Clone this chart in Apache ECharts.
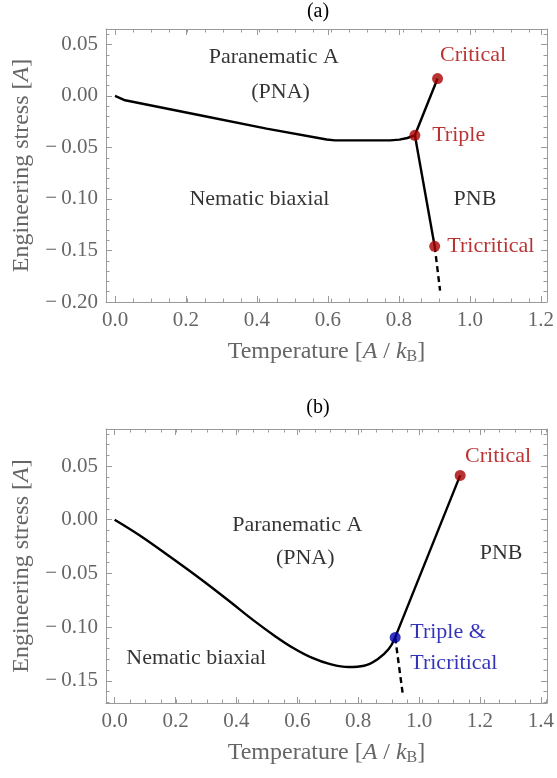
<!DOCTYPE html>
<html>
<head>
<meta charset="utf-8">
<script src="https://cdn.jsdelivr.net/npm/echarts@6/dist/echarts.min.js"></script>
<style>
  html, body { margin: 0; padding: 0; background: #fff; }
  #chart { width: 557px; height: 778px; }
</style>
</head>
<body>
<div id="chart"></div>
<script>
var SERIF = '"Liberation Serif", "Times New Roman", serif';
var FRAME = '#9a9a9a', GREY = '#666666';
var RED = '#a80000', BLUE = '#0000a8';

// ---- panel (a): phase boundaries, [temperature, stress]
var aLowBoundary = [[0, 0], [0.028, -0.0042], [0.236, -0.0187], [0.421, -0.0317], [0.588, -0.0423],
  [0.611, -0.0431], [0.764, -0.0431], [0.79, -0.0424], [0.812, -0.0408], [0.833, -0.0382]];
var aTripleCritical = [[0.833, -0.0382], [0.896, 0.0169]];
var aTripleTricritical = [[0.833, -0.0382], [0.888, -0.1459]];
var aDashed = [[0.888, -0.1459], [0.903, -0.189]];
var aPoints = [[0.896, 0.0169], [0.833, -0.0382], [0.888, -0.1459]];

// ---- panel (b)
var bLowBoundary = [[0, 0], [0.083, -0.0149], [0.18, -0.0345], [0.278, -0.055], [0.375, -0.0764],
  [0.45, -0.0935], [0.52, -0.1082], [0.58, -0.1195], [0.64, -0.1285], [0.7, -0.1345],
  [0.76, -0.1372], [0.81, -0.136], [0.855, -0.1297], [0.89, -0.1205], [0.911, -0.1096]];
var bTripleCritical = [[0.911, -0.1096], [1.122, 0.0413]];
var bDashed = [[0.911, -0.1096], [0.935, -0.161]];
var bCritical = [[1.122, 0.0413]];
var bTriple = [[0.911, -0.1096]];

// text annotations (data coords)
var aLabels = [
  { text: 'Paranematic A', x: 0.441, y: 0.0376, align: 'center', color: '#000' },
  { text: '(PNA)', x: 0.46, y: 0.0036, align: 'center', color: '#000' },
  { text: 'Nematic biaxial', x: 0.401, y: -0.1003, align: 'center', color: '#000' },
  { text: 'PNB', x: 1.0, y: -0.1003, align: 'center', color: '#000' },
  { text: 'Critical', x: 0.903, y: 0.0395, align: 'left', color: RED },
  { text: 'Triple', x: 0.881, y: -0.0383, align: 'left', color: RED },
  { text: 'Tricritical', x: 0.923, y: -0.146, align: 'left', color: RED }
];
var bLabels = [
  { text: 'Paranematic A', x: 0.593, y: -0.0047, align: 'center', color: '#000' },
  { text: '(PNA)', x: 0.619, y: -0.0354, align: 'center', color: '#000' },
  { text: 'PNB', x: 1.255, y: -0.0312, align: 'center', color: '#000' },
  { text: 'Nematic biaxial', x: 0.265, y: -0.129, align: 'center', color: '#000' },
  { text: 'Critical', x: 1.138, y: 0.0587, align: 'left', color: RED },
  { text: 'Triple &', x: 0.96, y: -0.105, align: 'left', color: BLUE },
  { text: 'Tricritical', x: 0.96, y: -0.134, align: 'left', color: BLUE }
];

// frames: pixel box + plotted ranges
var frameA = { left: 106, top: 29, width: 441, height: 273, xmin: -0.025, xmax: 1.2, ymin: -0.2, ymax: 0.065 };
var frameB = { left: 106, top: 429, width: 441, height: 274, xmin: -0.028, xmax: 1.404, ymin: -0.1707, ymax: 0.0845 };

function fmtY(v) {
  if (Math.abs(v) < 1e-9) return '0.00';
  return v < 0 ? '\u2212\u2009' + (-v).toFixed(2) : v.toFixed(2);
}
function fmtX(v) { return v.toFixed(1); }

var nameStyle = {
  fontFamily: SERIF, fontSize: 24, color: GREY,
  rich: {
    i: { fontFamily: SERIF, fontSize: 24, fontStyle: 'italic', color: GREY },
    s: { fontFamily: SERIF, fontSize: 16, color: GREY, padding: [11, 0, 0, 0] }
  }
};

var grids = [], xAxes = [], yAxes = [];

function frameAxis(gi, pos, min, max, name, gap) {
  var a = {
    gridIndex: gi, type: 'value', position: pos, min: min, max: max,
    splitLine: { show: false },
    axisLine: { show: true, onZero: false, lineStyle: { color: FRAME, width: 1 } },
    axisTick: { show: false }, axisLabel: { show: false }
  };
  if (name) {
    a.name = name; a.nameLocation = 'middle'; a.nameGap = gap; a.nameTextStyle = nameStyle;
  }
  return a;
}

function tickAxis(gi, pos, lo, hi, step, len, fmt) {
  return {
    gridIndex: gi, type: 'value', position: pos, min: lo, max: hi, interval: step,
    splitLine: { show: false },
    axisLine: { show: false, onZero: false },
    axisTick: { show: true, inside: true, length: len, lineStyle: { color: FRAME, width: 1 } },
    axisLabel: fmt ? { show: true, color: GREY, fontFamily: SERIF, fontSize: 21, margin: 8, formatter: fmt } : { show: false }
  };
}
function dummy(gi) {
  return { gridIndex: gi, type: 'value', min: 1, max: 2, show: false, axisLine: { onZero: false } };
}

// x ticks on bottom + top, spanning [lo, hi] inside the frame
function xTicks(f, lo, hi, step, len, fmt) {
  var sx = f.width / (f.xmax - f.xmin);
  grids.push({ left: f.left + (lo - f.xmin) * sx, width: (hi - lo) * sx, top: f.top, height: f.height });
  var gi = grids.length - 1;
  xAxes.push(tickAxis(gi, 'bottom', lo, hi, step, len, fmt));
  xAxes.push(tickAxis(gi, 'top', lo, hi, step, len, null));
  yAxes.push(dummy(gi));
}
function yTicks(f, lo, hi, step, len, fmt) {
  var sy = f.height / (f.ymax - f.ymin);
  grids.push({ top: f.top + (f.ymax - hi) * sy, height: (hi - lo) * sy, left: f.left, width: f.width });
  var gi = grids.length - 1;
  yAxes.push(tickAxis(gi, 'left', lo, hi, step, len, fmt));
  yAxes.push(tickAxis(gi, 'right', lo, hi, step, len, null));
  xAxes.push(dummy(gi));
}

function panel(f, xMajor, xMinor, yMajor, yMinor) {
  grids.push({ left: f.left, top: f.top, width: f.width, height: f.height });
  var gi = grids.length - 1;
  var xi = xAxes.length, yi = yAxes.length;
  xAxes.push(frameAxis(gi, 'bottom', f.xmin, f.xmax, 'Temperature [{i|A} / {i|k}{s|B}]', 36));
  xAxes.push(frameAxis(gi, 'top', f.xmin, f.xmax));
  yAxes.push(frameAxis(gi, 'left', f.ymin, f.ymax, 'Engineering stress [{i|A}]', 72));
  yAxes.push(frameAxis(gi, 'right', f.ymin, f.ymax));
  xTicks(f, xMajor[0], xMajor[1], xMajor[2], 6, fmtX);
  xTicks(f, xMinor[0], xMinor[1], xMinor[2], 3.5, null);
  yTicks(f, yMajor[0], yMajor[1], yMajor[2], 6, fmtY);
  yTicks(f, yMinor[0], yMinor[1], yMinor[2], 3.5, null);
  return { x: xi, y: yi };
}

// [from, to, step] for major / minor ticks
var pA = panel(frameA, [0, 1.2, 0.2], [0, 1.2, 0.05], [-0.2, 0.05, 0.05], [-0.2, 0.06, 0.01]);
var pB = panel(frameB, [0, 1.4, 0.2], [0, 1.4, 0.05], [-0.15, 0.05, 0.05], [-0.17, 0.08, 0.01]);

function line(p, data, dashed, smooth) {
  return {
    type: 'line', xAxisIndex: p.x, yAxisIndex: p.y, data: data,
    symbol: 'none', smooth: smooth || false, silent: true, z: 3,
    lineStyle: { color: '#000', width: 2.4, type: dashed ? [6, 4] : 'solid' }
  };
}
function dots(p, data, color) {
  return {
    type: 'scatter', xAxisIndex: p.x, yAxisIndex: p.y, data: data,
    symbolSize: 11, silent: true, z: 4, itemStyle: { color: color }
  };
}
function texts(p, items) {
  return {
    type: 'scatter', xAxisIndex: p.x, yAxisIndex: p.y, symbolSize: 0, silent: true, z: 5,
    data: items.map(function (it) {
      return {
        value: [it.x, it.y],
        label: {
          show: true, position: 'inside', formatter: it.text, align: it.align,
          verticalAlign: 'middle', color: it.color, fontFamily: SERIF, fontSize: 22
        }
      };
    })
  };
}

var chart = echarts.init(document.getElementById('chart'));
chart.setOption({
  animation: false,
  backgroundColor: '#fff',
  graphic: [
    { type: 'text', x: 318, y: 12, style: { text: '(a)', align: 'center', verticalAlign: 'middle', fontFamily: SERIF, fontSize: 20, fill: '#000' } },
    { type: 'text', x: 318, y: 408, style: { text: '(b)', align: 'center', verticalAlign: 'middle', fontFamily: SERIF, fontSize: 20, fill: '#000' } }
  ],
  grid: grids,
  xAxis: xAxes,
  yAxis: yAxes,
  series: [
    line(pA, aLowBoundary),
    line(pA, aTripleCritical),
    line(pA, aTripleTricritical),
    line(pA, aDashed, true),
    dots(pA, aPoints, RED),
    texts(pA, aLabels),
    line(pB, bLowBoundary, false, 0.4),
    line(pB, bTripleCritical),
    line(pB, bDashed, true),
    dots(pB, bCritical, RED),
    dots(pB, bTriple, BLUE),
    texts(pB, bLabels)
  ]
});
</script>
</body>
</html>
